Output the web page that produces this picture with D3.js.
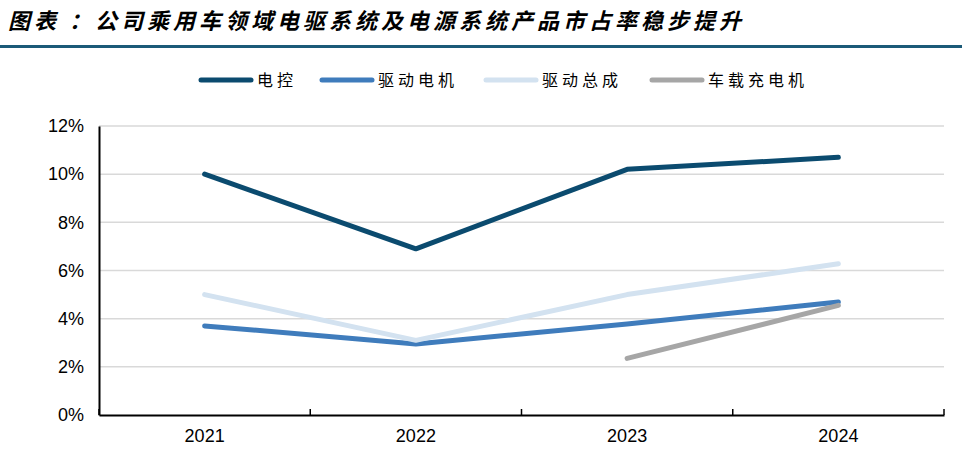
<!DOCTYPE html>
<html>
<head>
<meta charset="utf-8">
<script src="https://cdn.jsdelivr.net/npm/d3@7"></script>
<style>
  body { margin: 0; background: #fff; }
  svg { display: block; }
</style>
</head>
<body>
<div id="chart"></div>
<script>
var years = ["2021", "2022", "2023", "2024"];
var yTicks = [0, 0.02, 0.04, 0.06, 0.08, 0.10, 0.12];

var seriesNames = ["电控", "驱动电机", "驱动总成", "车载充电机"];
var dianKong = [0.100, 0.069, 0.102, 0.107];
var quDongDianJi = [0.037, 0.0295, 0.0378, 0.0469];
var quDongZongCheng = [0.050, 0.031, 0.050, 0.0628];
var cheZaiChongDianJi = [null, null, 0.0235, 0.0455];

var colors = ["#0b4b6f", "#3f7cbc", "#d3e2f0", "#a6a6a6"];
var allSeries = [dianKong, quDongDianJi, quDongZongCheng, cheZaiChongDianJi];

var svgWidth = 962;
var svgHeight = 455;
var margin = { top: 126, right: 18, bottom: 40, left: 99 };
var width = svgWidth - margin.left - margin.right;
var height = svgHeight - margin.top - margin.bottom;

var svg = d3.select("#chart")
  .append("svg")
  .attr("width", svgWidth)
  .attr("height", svgHeight);

// title
svg.append("text")
  .attr("x", 8)
  .attr("y", 29)
  .attr("font-family", "Noto Sans CJK SC")
  .attr("font-size", 22)
  .attr("font-weight", "bold")
  .attr("font-style", "italic")
  .attr("letter-spacing", 4)
  .attr("fill", "#000")
  .text("图表 ：公司乘用车领域电驱系统及电源系统产品市占率稳步提升");

svg.append("rect")
  .attr("x", 0)
  .attr("y", 45)
  .attr("width", svgWidth)
  .attr("height", 3)
  .attr("fill", "#1b5a78");

// legend
var legendX = [201, 322, 486, 652];
var legend = svg.append("g");
seriesNames.forEach(function(name, i) {
  legend.append("line")
    .attr("x1", legendX[i])
    .attr("x2", legendX[i] + 50)
    .attr("y1", 80)
    .attr("y2", 80)
    .attr("stroke", colors[i])
    .attr("stroke-width", 5)
    .attr("stroke-linecap", "round");
  legend.append("text")
    .attr("x", legendX[i] + 56)
    .attr("y", 86)
    .attr("font-family", "Noto Sans CJK SC")
    .attr("font-size", 16)
    .attr("letter-spacing", 4)
    .attr("fill", "#000")
    .text(name);
});

var g = svg.append("g")
  .attr("transform", "translate(" + margin.left + "," + margin.top + ")");

var x = d3.scaleBand()
  .domain(years)
  .range([0, width]);

var y = d3.scaleLinear()
  .domain([0, 0.12])
  .range([height, 0]);

// grid
g.append("g")
  .selectAll("line")
  .data(yTicks.slice(1))
  .enter()
  .append("line")
  .attr("x1", 0)
  .attr("x2", width)
  .attr("y1", function(d) { return y(d); })
  .attr("y2", function(d) { return y(d); })
  .attr("stroke", "#d9d9d9")
  .attr("stroke-width", 1.5);

// y axis
var yAxis = g.append("g")
  .call(d3.axisLeft(y).tickValues(yTicks).tickFormat(d3.format(".0%")).tickSize(0).tickPadding(15));
yAxis.select(".domain").attr("stroke", "#000").attr("stroke-width", 2);
yAxis.selectAll("text")
  .attr("font-family", "Liberation Sans, Arial")
  .attr("font-size", 18)
  .attr("fill", "#000");

// x axis
var xAxis = g.append("g")
  .attr("transform", "translate(0," + height + ")")
  .call(d3.axisBottom(x).tickSize(0).tickPadding(14));
xAxis.select(".domain").attr("stroke", "#000").attr("stroke-width", 2);
xAxis.selectAll("text")
  .attr("font-family", "Liberation Sans, Arial")
  .attr("font-size", 18)
  .attr("fill", "#000");

// category boundary ticks pointing up
var boundaries = years.map(function(d) { return x(d); }).concat([width]);
g.append("g")
  .selectAll("line")
  .data(boundaries)
  .enter()
  .append("line")
  .attr("x1", function(d) { return d; })
  .attr("x2", function(d) { return d; })
  .attr("y1", height)
  .attr("y2", height - 6)
  .attr("stroke", "#000")
  .attr("stroke-width", 1.5);

// lines
var line = d3.line()
  .defined(function(d) { return d[1] !== null; })
  .x(function(d) { return x(d[0]) + x.bandwidth() / 2; })
  .y(function(d) { return y(d[1]); });

allSeries.forEach(function(vals, i) {
  var pts = years.map(function(yr, j) { return [yr, vals[j]]; });
  g.append("path")
    .datum(pts)
    .attr("fill", "none")
    .attr("stroke", colors[i])
    .attr("stroke-width", 5)
    .attr("stroke-linecap", "round")
    .attr("stroke-linejoin", "round")
    .attr("d", line);
});
</script>
</body>
</html>
